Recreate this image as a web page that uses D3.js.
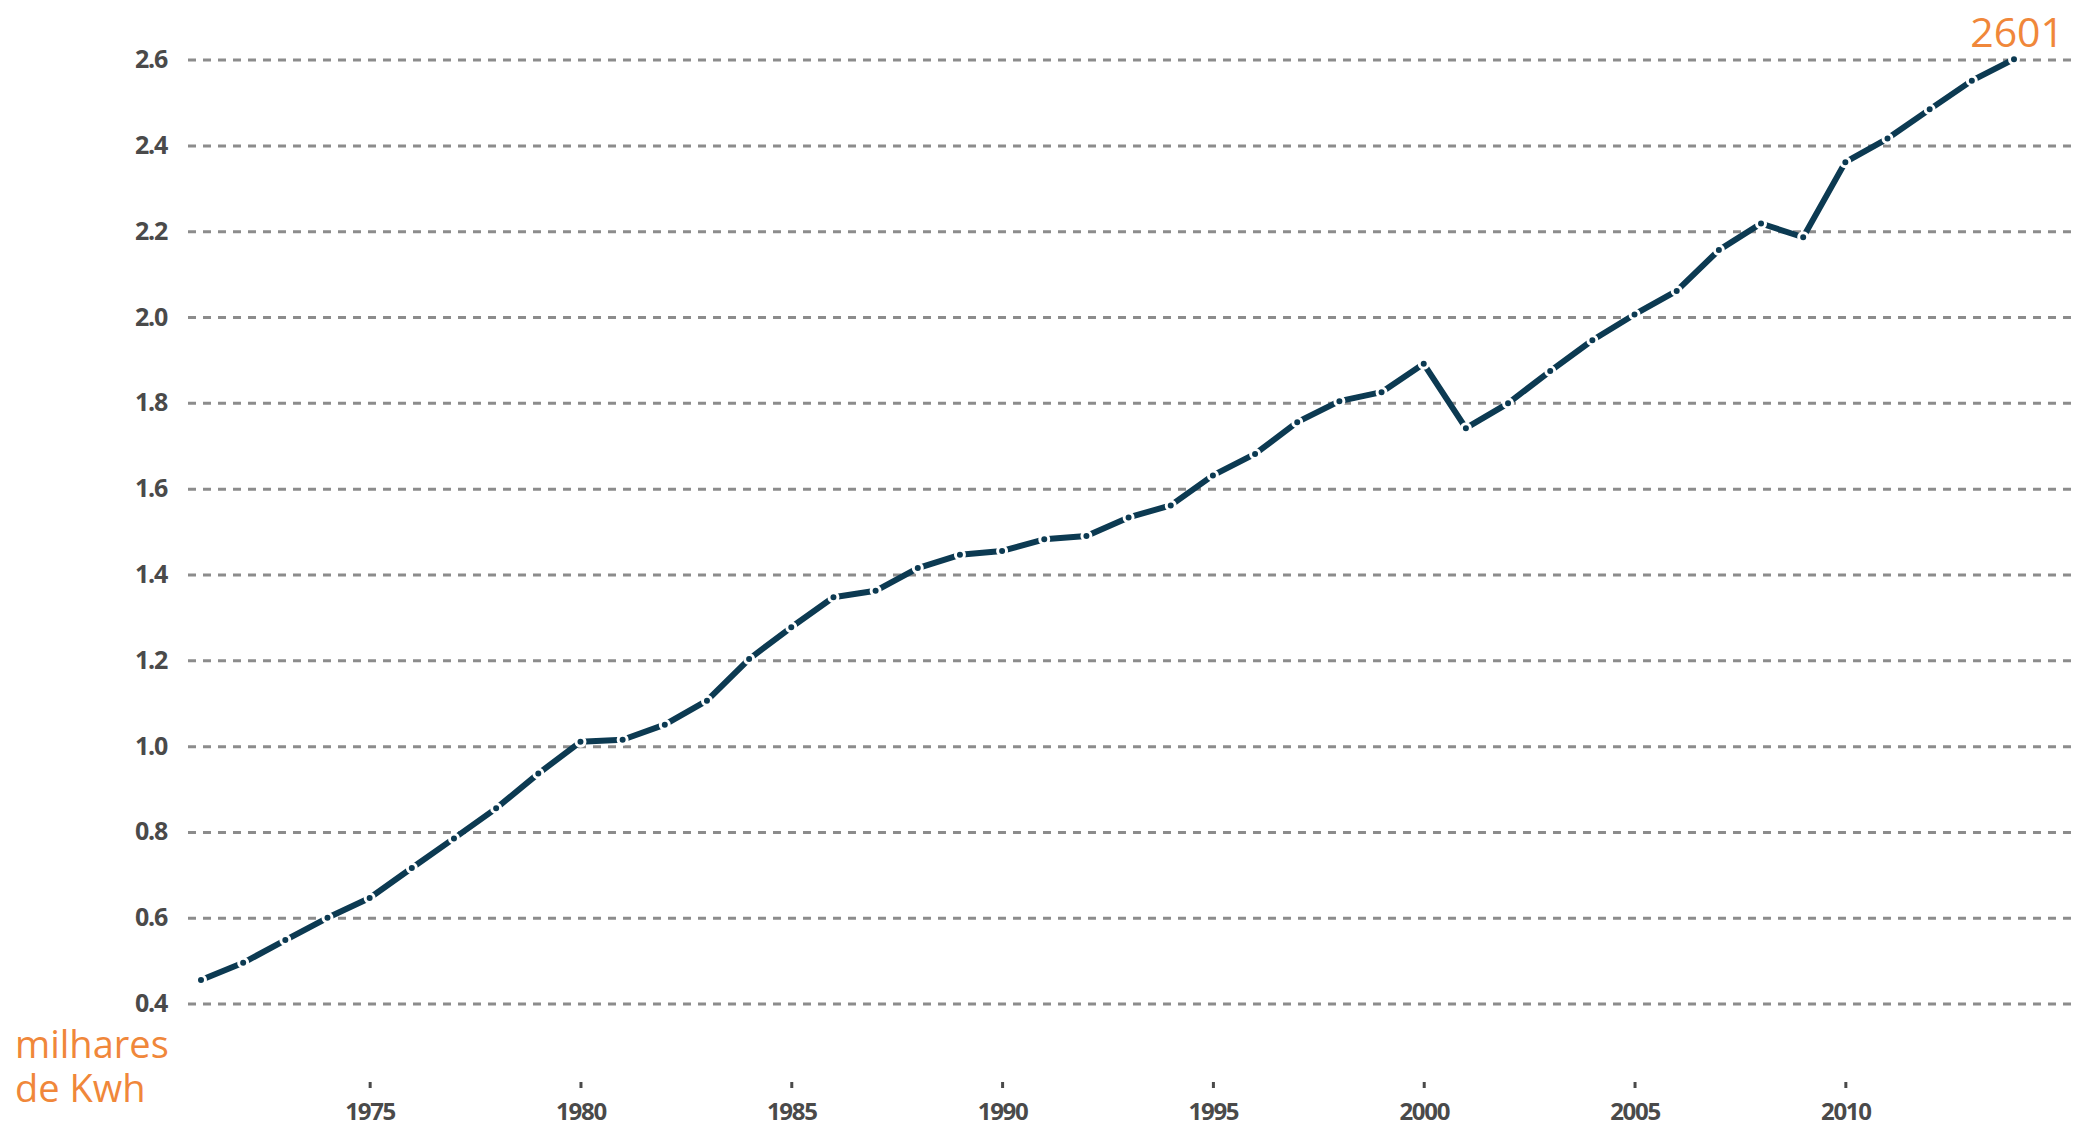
<!DOCTYPE html>
<html>
<head>
<meta charset="utf-8">
<script src="https://cdn.jsdelivr.net/npm/d3@7"></script>
<style>
  html, body { margin: 0; padding: 0; background: #fff; }
  svg { display: block; }
</style>
</head>
<body>
<svg id="chart" width="2076" height="1128"></svg>
<script>
// consumo per capita, milhares de kWh
const years = d3.range(1971, 2015);
const values = [
  0.455, 0.495, 0.548, 0.600, 0.646, 0.716, 0.785, 0.855, 0.936, 1.010,
  1.015, 1.050, 1.106, 1.203, 1.277, 1.347, 1.362, 1.415, 1.446, 1.455,
  1.482, 1.490, 1.533, 1.561, 1.631, 1.681, 1.755, 1.804, 1.825, 1.891,
  1.741, 1.799, 1.874, 1.946, 2.006, 2.061, 2.156, 2.218, 2.186, 2.361,
  2.416, 2.484, 2.551, 2.601
];
const yTicks = [0.4, 0.6, 0.8, 1.0, 1.2, 1.4, 1.6, 1.8, 2.0, 2.2, 2.4, 2.6];
const xTicks = [1975, 1980, 1985, 1990, 1995, 2000, 2005, 2010];
const unitLines = ['milhares', 'de Kwh'];
const lastLabel = '2601';

const data = years.map((y, i) => ({ year: y, value: values[i] }));

const svg = d3.select('#chart');
const width = +svg.attr('width');

const navy = '#0c3a52';
const orange = '#f0873a';
const textGray = '#4a4a4a';

const x = d3.scaleLinear().domain([1971, 2014]).range([201, 2014]);
const y = d3.scaleLinear().domain([0.4, 2.6]).range([1003.6, 59.6]);

// horizontal dashed grid + y labels
const yAxis = d3.axisLeft(y)
  .tickValues(yTicks)
  .tickSize(-(width - 188))
  .tickPadding(21)
  .tickFormat(d3.format('.1f'));

const gy = svg.append('g')
  .attr('transform', 'translate(188,0)')
  .call(yAxis);
gy.select('.domain').remove();
gy.selectAll('.tick line')
  .attr('stroke', '#8c8c8c')
  .attr('stroke-width', 3)
  .attr('stroke-dasharray', '8,7');
gy.selectAll('.tick text')
  .attr('fill', textGray)
  .style('font-family', '"Open Sans", sans-serif')
  .style('font-weight', 700)
  .style('font-size', '25px')
  .style('letter-spacing', '-1.2px');

// x axis: small tick marks and year labels
const xAxis = d3.axisBottom(x)
  .tickValues(xTicks)
  .tickSize(6)
  .tickPadding(15)
  .tickFormat(d3.format('d'));

const gx = svg.append('g')
  .attr('transform', 'translate(0,1082)')
  .call(xAxis);
gx.select('.domain').remove();
gx.selectAll('.tick line')
  .attr('stroke', textGray)
  .attr('stroke-width', 3);
gx.selectAll('.tick text')
  .attr('fill', textGray)
  .style('font-family', '"Open Sans", sans-serif')
  .style('font-weight', 700)
  .style('font-size', '24px')
  .style('letter-spacing', '-1.3px');

// the line
const line = d3.line()
  .x(d => x(d.year))
  .y(d => y(d.value));

svg.append('path')
  .datum(data)
  .attr('fill', 'none')
  .attr('stroke', navy)
  .attr('stroke-width', 6)
  .attr('stroke-linejoin', 'round')
  .attr('d', line);

svg.append('g')
  .selectAll('circle')
  .data(data)
  .join('circle')
  .attr('cx', d => x(d.year))
  .attr('cy', d => y(d.value))
  .attr('r', 4.5)
  .attr('fill', navy)
  .attr('stroke', '#fff')
  .attr('stroke-width', 3);

// last value label
const last = data[data.length - 1];
svg.append('text')
  .attr('x', x(last.year) + 50)
  .attr('y', y(last.value) - 12)
  .attr('text-anchor', 'end')
  .attr('fill', orange)
  .style('font-family', '"Open Sans", sans-serif')
  .style('font-size', '41px')
  .text(lastLabel);

// unit label, one text per line
svg.append('g')
  .selectAll('text')
  .data(unitLines)
  .join('text')
  .attr('x', 15)
  .attr('y', (d, i) => 1058 + i * 44)
  .attr('fill', orange)
  .style('font-family', '"Open Sans", sans-serif')
  .style('font-size', '38px')
  .text(d => d);
</script>
</body>
</html>
